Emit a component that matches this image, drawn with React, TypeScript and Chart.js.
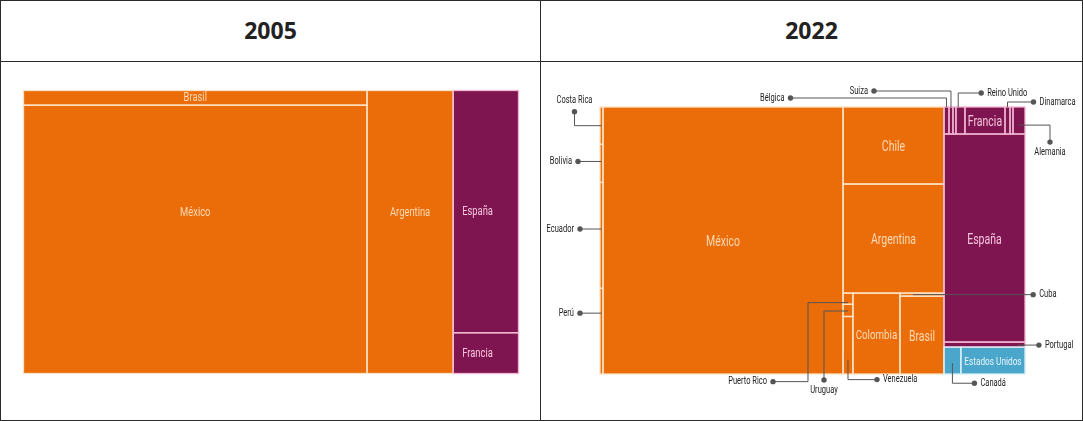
import React, { useEffect, useRef } from 'react';
import { Chart, registerables } from 'chart.js';

Chart.register(...registerables);

// ---------------- DATA ----------------
const countries2005 = ['Brasil', 'México', 'Argentina', 'España', 'Francia'];
const values2005 = [3.6, 65.8, 17.4, 11.3, 1.9];
// slice-and-dice hierarchy (columns, then rows, alternating)
const tree2005: any[] = [['Brasil', 'México'], ['Argentina'], ['España', 'Francia']];

const countries2022 = [
  'Costa Rica', 'Bolivia', 'Ecuador', 'Perú', 'México', 'Chile', 'Argentina',
  'Puerto Rico', 'Uruguay', 'Venezuela', 'Colombia', 'Cuba', 'Brasil',
  'Bélgica', 'Suiza', 'sin etiqueta 1', 'Reino Unido', 'Francia', 'Dinamarca', 'sin etiqueta 2', 'Alemania',
  'España', 'Portugal', 'Canadá', 'Estados Unidos',
];
const values2022 = [
  0.098, 0.1, 0.278, 0.225, 56.47, 6.85, 9.7,
  0.097, 0.106, 0.5, 3.35, 0.116, 3.02,
  0.119, 0.095, 0.071, 0.214, 0.953, 0.119, 0.071, 0.286,
  14.85, 0.36, 0.4, 1.52,
];
const tree2022: any[] = [
  ['Costa Rica', 'Bolivia', 'Ecuador', 'Perú'],
  ['México'],
  ['Chile', 'Argentina', [['Puerto Rico', 'Uruguay', 'Venezuela'], ['Colombia'], ['Cuba', 'Brasil']]],
  [
    ['Bélgica', 'Suiza', 'sin etiqueta 1', 'Reino Unido', 'Francia', 'Dinamarca', 'sin etiqueta 2', 'Alemania'],
    'España',
    'Portugal',
    ['Canadá', 'Estados Unidos'],
  ],
];

const europe = ['España', 'Francia', 'Bélgica', 'Suiza', 'sin etiqueta 1', 'Reino Unido', 'Dinamarca', 'sin etiqueta 2', 'Alemania', 'Portugal'];
const northAmerica = ['Canadá', 'Estados Unidos'];

const titles = ['2005', '2022'];

// ---------------- STYLE ----------------
const REGION_STYLE = {
  latam: { fill: '#EA6D0A', border: '#FDE3C6', text: '#FCDAB4' },
  europe: { fill: '#7E1450', border: '#F2B6D3', text: '#F6C6DD' },
  na: { fill: '#4AA6CB', border: '#D9EFF7', text: '#E8F5FA' },
};
const CONDENSE = 0.75;
const FONT = 'Roboto, "DejaVu Sans", sans-serif';

// vertical label placement (fraction of cell height) where it is not centred
const labelYFrac2005: Record<string, number> = { 'México': 0.4, 'Argentina': 0.43 };

// callout annotations (relative pixel moves from a point inside the cell)
const callouts2022 = [
  { name: 'Costa Rica', at: [0.5, 0.5], path: [[-27, 0], [0, -14]], side: 'above' },
  { name: 'Bolivia', at: [0.5, 0.45], path: [[-23.5, 0]], side: 'left' },
  { name: 'Ecuador', at: [0.5, 0.44], path: [[-21.5, 0]], side: 'left' },
  { name: 'Perú', at: [0.5, 0.29], path: [[-21.5, 0]], side: 'left' },
  { name: 'Bélgica', at: [0.5, 0], path: [[0, -9], [-156, 0]], side: 'left' },
  { name: 'Suiza', at: [0.5, 0], path: [[0, -16], [-77, 0]], side: 'left' },
  { name: 'Reino Unido', at: [0.25, 0], path: [[0, -14], [23, 0]], side: 'right' },
  { name: 'Dinamarca', at: [0.5, 0], path: [[0, -5], [26, 0]], side: 'right' },
  { name: 'Alemania', at: [0.5, 0.67], path: [[31, 0], [0, 17]], side: 'below' },
  { name: 'Cuba', at: [0.3, 0.5], path: [[120, 0]], side: 'right' },
  { name: 'Portugal', at: [0.9, 0.6], path: [[22, 0]], side: 'right' },
  { name: 'Canadá', at: [0.5, 0.6], path: [[0, 20], [22, 0]], side: 'right' },
  { name: 'Puerto Rico', at: [0.5, 0.85], path: [[-40, 0], [0, 79], [-35, 0]], side: 'left' },
  { name: 'Uruguay', at: [0.5, 0.55], path: [[-24, 0], [0, 69]], side: 'below' },
  { name: 'Venezuela', at: [0.5, 0.75], path: [[0, 20], [29, 0]], side: 'right' },
];

function regionOf(name: string) {
  if (europe.includes(name)) return REGION_STYLE.europe;
  if (northAmerica.includes(name)) return REGION_STYLE.na;
  return REGION_STYLE.latam;
}

type Cell = { name: string; x0: number; y0: number; x1: number; y1: number };

function sumNode(n: any, valueOf: (s: string) => number): number {
  if (typeof n === 'string') return valueOf(n);
  return n.reduce((a: number, c: any) => a + sumNode(c, valueOf), 0);
}

function layoutNode(n: any, x0: number, y0: number, x1: number, y1: number, depth: number, valueOf: (s: string) => number, out: Cell[]) {
  if (typeof n === 'string') {
    out.push({ name: n, x0, y0, x1, y1 });
    return;
  }
  const total = sumNode(n, valueOf);
  const horizontal = depth % 2 === 0;
  let pos = horizontal ? x0 : y0;
  n.forEach((child: any) => {
    const frac = sumNode(child, valueOf) / total;
    if (horizontal) {
      const nx = pos + (x1 - x0) * frac;
      layoutNode(child, pos, y0, nx, y1, depth + 1, valueOf, out);
      pos = nx;
    } else {
      const ny = pos + (y1 - y0) * frac;
      layoutNode(child, x0, pos, x1, ny, depth + 1, valueOf, out);
      pos = ny;
    }
  });
}

function drawCondensed(ctx: CanvasRenderingContext2D, text: string, x: number, y: number) {
  const w = ctx.measureText(text).width;
  ctx.fillText(text, x, y, w * CONDENSE);
}

function makeTreemapPlugin(cells: Cell[], baseFont: number, callouts: any[], leftAligned: string[], yFrac: Record<string, number>, yShift: number) {
  return {
    id: 'treemapCells',
    afterDatasetsDraw(chart: any) {
      const { ctx } = chart;
      const xs = chart.scales.x;
      const ys = chart.scales.y;
      const rects = cells.map((c) => ({
        name: c.name,
        px0: xs.getPixelForValue(c.x0),
        px1: xs.getPixelForValue(c.x1),
        py0: ys.getPixelForValue(c.y0),
        py1: ys.getPixelForValue(c.y1),
      }));
      ctx.save();
      rects.forEach((r) => {
        const st = regionOf(r.name);
        ctx.fillStyle = st.fill;
        ctx.fillRect(r.px0, r.py0, r.px1 - r.px0, r.py1 - r.py0);
      });
      rects.forEach((r) => {
        const st = regionOf(r.name);
        ctx.strokeStyle = st.border;
        ctx.lineWidth = 1.3;
        ctx.strokeRect(r.px0, r.py0, r.px1 - r.px0, r.py1 - r.py0);
      });
      // inside labels
      const calloutNames = callouts.map((c) => c.name);
      rects.forEach((r) => {
        if (calloutNames.includes(r.name) || r.name.startsWith('sin etiqueta')) return;
        const st = regionOf(r.name);
        const w = r.px1 - r.px0;
        const h = r.py1 - r.py0;
        let size = baseFont;
        ctx.font = `${size}px ${FONT}`;
        while (size > 7 && ctx.measureText(r.name).width * CONDENSE > w - 5) {
          size -= 0.5;
          ctx.font = `${size}px ${FONT}`;
        }
        if (h < size) return;
        ctx.fillStyle = st.text;
        ctx.textBaseline = 'middle';
        const f = yFrac[r.name] !== undefined ? yFrac[r.name] : 0.5;
        const cy = r.py0 + f * (r.py1 - r.py0) + yShift;
        if (leftAligned.includes(r.name)) {
          ctx.textAlign = 'left';
          drawCondensed(ctx, r.name, r.px0 + 9, cy);
        } else {
          ctx.textAlign = 'center';
          drawCondensed(ctx, r.name, (r.px0 + r.px1) / 2, cy);
        }
      });
      // callouts
      callouts.forEach((co) => {
        const r = rects.find((q) => q.name === co.name);
        if (!r) return;
        let x = r.px0 + co.at[0] * (r.px1 - r.px0);
        let y = r.py0 + co.at[1] * (r.py1 - r.py0);
        ctx.strokeStyle = '#555555';
        ctx.lineWidth = 1;
        ctx.beginPath();
        ctx.moveTo(x, y);
        co.path.forEach((p: number[]) => {
          x += p[0];
          y += p[1];
          ctx.lineTo(x, y);
        });
        ctx.stroke();
        ctx.fillStyle = '#555555';
        ctx.beginPath();
        ctx.arc(x, y, 2.7, 0, Math.PI * 2);
        ctx.fill();
        ctx.fillStyle = '#222222';
        ctx.font = `10px ${FONT}`;
        ctx.textBaseline = 'middle';
        if (co.side === 'left') {
          ctx.textAlign = 'right';
          drawCondensed(ctx, co.name, x - 6, y);
        } else if (co.side === 'right') {
          ctx.textAlign = 'left';
          drawCondensed(ctx, co.name, x + 6, y);
        } else if (co.side === 'above') {
          ctx.textAlign = 'center';
          drawCondensed(ctx, co.name, x, y - 11);
        } else {
          ctx.textAlign = 'center';
          drawCondensed(ctx, co.name, x, y + 10);
        }
      });
      ctx.restore();
    },
  };
}

type TMProps = {
  tree: any[];
  names: string[];
  values: number[];
  left: number;
  top: number;
  width: number;
  height: number;
  padding: { left: number; right: number; top: number; bottom: number };
  baseFont: number;
  callouts: any[];
  leftAligned: string[];
  yFrac: Record<string, number>;
  yShift: number;
};

function Treemap(props: TMProps) {
  const ref = useRef<HTMLCanvasElement>(null);
  useEffect(() => {
    const valueOf = (s: string) => props.values[props.names.indexOf(s)];
    const cells: Cell[] = [];
    layoutNode(props.tree, 0, 0, 100, 100, 0, valueOf, cells);
    const chart = new Chart(ref.current as HTMLCanvasElement, {
      type: 'scatter',
      data: { datasets: [{ data: [] }] },
      options: {
        animation: false,
        responsive: false,
        maintainAspectRatio: false,
        events: [],
        layout: { padding: props.padding },
        scales: {
          x: { type: 'linear', min: 0, max: 100, display: false },
          y: { type: 'linear', min: 0, max: 100, reverse: true, display: false },
        },
        plugins: { legend: { display: false }, tooltip: { enabled: false } },
      },
      plugins: [makeTreemapPlugin(cells, props.baseFont, props.callouts, props.leftAligned, props.yFrac, props.yShift)],
    } as any);
    return () => chart.destroy();
  }, []);
  return (
    <canvas
      ref={ref}
      width={props.width}
      height={props.height}
      style={{ position: 'absolute', left: props.left, top: props.top, width: props.width, height: props.height }}
    />
  );
}

export default function App() {
  const lineColor = '#2b2b2b';
  const titleStyle: React.CSSProperties = {
    position: 'absolute',
    top: 0,
    height: 61,
    lineHeight: '61px',
    textAlign: 'center',
    fontFamily: '"Open Sans", sans-serif',
    fontWeight: 700,
    fontSize: 23,
    color: '#222',
  };
  return (
    <div style={{ position: 'absolute', left: 0, top: 0, width: 1083, height: 421, background: '#fff' }}>
      <div style={{ position: 'absolute', left: 0, top: 0, width: 1083, height: 421, border: `1px solid ${lineColor}`, boxSizing: 'border-box' }} />
      <div style={{ position: 'absolute', left: 540, top: 0, width: 1, height: 421, background: lineColor }} />
      <div style={{ position: 'absolute', left: 0, top: 61, width: 1083, height: 1, background: lineColor }} />
      <div style={{ ...titleStyle, left: 1, width: 539 }}>{titles[0]}</div>
      <div style={{ ...titleStyle, left: 541, width: 541 }}>{titles[1]}</div>
      <Treemap
        tree={tree2005}
        names={countries2005}
        values={values2005}
        left={1}
        top={62}
        width={539}
        height={358}
        padding={{ left: 22.5, right: 21.5, top: 28.5, bottom: 46.5 }}
        baseFont={12.5}
        callouts={[]}
        leftAligned={['España', 'Francia']}
        yFrac={labelYFrac2005}
        yShift={0.5}
      />
      <Treemap
        tree={tree2022}
        names={countries2022}
        values={values2022}
        left={541}
        top={62}
        width={541}
        height={358}
        padding={{ left: 59, right: 57, top: 45, bottom: 46 }}
        baseFont={14}
        callouts={callouts2022}
        leftAligned={[]}
        yFrac={{}}
        yShift={2}
      />
    </div>
  );
}
